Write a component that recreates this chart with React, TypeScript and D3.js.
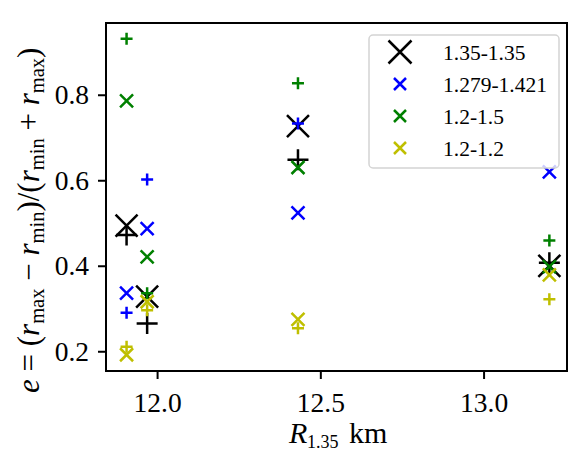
import React from 'react';
import * as d3 from 'd3';

const xPositions = [11.905, 11.968, 12.43, 13.2];
const seriesLabels = ['1.35-1.35', '1.279-1.421', '1.2-1.5', '1.2-1.2'];
const seriesColors = ['#000000', '#0000ff', '#008000', '#bfbf00'];
const blackCross = [0.495, 0.329, 0.728, 0.401];
const blackPlus = [0.473, 0.266, 0.649, 0.408];
const blueCross = [0.337, 0.488, 0.525, 0.621];
const bluePlus = [0.291, 0.603, 0.734, null];
const greenCross = [0.787, 0.422, 0.631, 0.399];
const greenPlus = [0.932, 0.337, 0.828, 0.46];
const yellowCross = [0.193, 0.317, 0.276, 0.38];
const yellowPlus = [0.212, 0.297, 0.255, 0.323];
const xTicks = [12.0, 12.5, 13.0];
const yTicks = [0.2, 0.4, 0.6, 0.8];

const crossSets = [blackCross, blueCross, greenCross, yellowCross];
const plusSets = [blackPlus, bluePlus, greenPlus, yellowPlus];

const W = 569, H = 457;
const L = 106, R = 567, T = 23, B = 371;
const FONT = '"Liberation Serif", "Times New Roman", serif';

function crossPath(cx: number, cy: number, s: number) {
  return `M${cx - s},${cy - s}L${cx + s},${cy + s}M${cx - s},${cy + s}L${cx + s},${cy - s}`;
}
function plusPath(cx: number, cy: number, s: number) {
  return `M${cx - s},${cy}L${cx + s},${cy}M${cx},${cy - s}L${cx},${cy + s}`;
}

export default function App() {
  const x = d3.scaleLinear().domain([11.842, 13.254]).range([L, R]);
  const y = d3.scaleLinear().domain([0.155, 0.969]).range([B, T]);

  const marks: React.ReactNode[] = [];
  seriesColors.forEach((c, si) => {
    const big = si === 0;
    const sx = big ? 11 : 6.5;
    const sp = big ? 10.5 : 6;
    crossSets[si].forEach((v, i) => {
      if (v == null) return;
      marks.push(<path key={`c${si}-${i}`} d={crossPath(x(xPositions[i]), y(v), sx)} stroke={c} strokeWidth={2.5} fill="none" />);
    });
    plusSets[si].forEach((v, i) => {
      if (v == null) return;
      marks.push(<path key={`p${si}-${i}`} d={plusPath(x(xPositions[i]), y(v), sp)} stroke={c} strokeWidth={2.5} fill="none" />);
    });
  });

  const tickFs = 27.5;
  const legX = 369, legY = 35, legW = 190, legH = 133;
  const labFs = 31;
  const subFs = 20.5;

  return (
    <svg width={W} height={H} style={{ position: 'absolute', left: 0, top: 0, background: '#fff' }} fontFamily={FONT}>
      <rect x={0} y={0} width={W} height={H} fill="#fff" />
      <g clipPath="url(#clip)">{marks}</g>
      <defs>
        <clipPath id="clip"><rect x={L} y={T} width={R - L} height={B - T} /></clipPath>
      </defs>
      <rect x={L} y={T} width={R - L} height={B - T} fill="none" stroke="#000" strokeWidth={2} />
      {xTicks.map((t) => (
        <g key={`xt${t}`}>
          <line x1={x(t)} x2={x(t)} y1={B} y2={B + 8} stroke="#000" strokeWidth={2} />
          <text x={x(t)} y={B + 41} textAnchor="middle" fontSize={tickFs}>{t.toFixed(1)}</text>
        </g>
      ))}
      {yTicks.map((t) => (
        <g key={`yt${t}`}>
          <line x1={L - 8} x2={L} y1={y(t)} y2={y(t)} stroke="#000" strokeWidth={2} />
          <text x={L - 17} y={y(t) + 9} textAnchor="end" fontSize={tickFs}>{t.toFixed(1)}</text>
        </g>
      ))}
      <text y={443} fontSize={30}>
        <tspan x={289} fontStyle="italic">R</tspan>
        <tspan x={307} fontSize={18} dy={5}>1.35</tspan>
        <tspan x={349} dy={-5}>km</tspan>
      </text>
      <text transform={`translate(39,393) rotate(-90)`} textAnchor="start" fontSize={labFs}>
        <tspan fontStyle="italic">e</tspan>
        <tspan>{' = ('}</tspan>
        <tspan fontStyle="italic">r</tspan>
        <tspan fontSize={subFs} dy={5}>max</tspan>
        <tspan dy={-5}>{' \u2212 '}</tspan>
        <tspan fontStyle="italic">r</tspan>
        <tspan fontSize={subFs} dy={5}>min</tspan>
        <tspan dy={-5}>{')/('}</tspan>
        <tspan fontStyle="italic">r</tspan>
        <tspan fontSize={subFs} dy={5}>min</tspan>
        <tspan dy={-5}>{' + '}</tspan>
        <tspan fontStyle="italic">r</tspan>
        <tspan fontSize={subFs} dy={5}>max</tspan>
        <tspan dy={-5}>{')'}</tspan>
      </text>
      <rect x={legX} y={legY} width={legW} height={legH} rx={4} fill="#fff" fillOpacity={0.8} stroke="#d4d4d4" strokeWidth={1.5} />
      {seriesLabels.map((lab, i) => {
        const cy = 52 + i * 32;
        const s = i === 0 ? 11.5 : 6;
        return (
          <g key={lab}>
            <path d={crossPath(400, cy, s)} stroke={seriesColors[i]} strokeWidth={2.5} fill="none" />
            <text x={443} y={cy + 8} fontSize={21.5}>{lab}</text>
          </g>
        );
      })}
    </svg>
  );
}
